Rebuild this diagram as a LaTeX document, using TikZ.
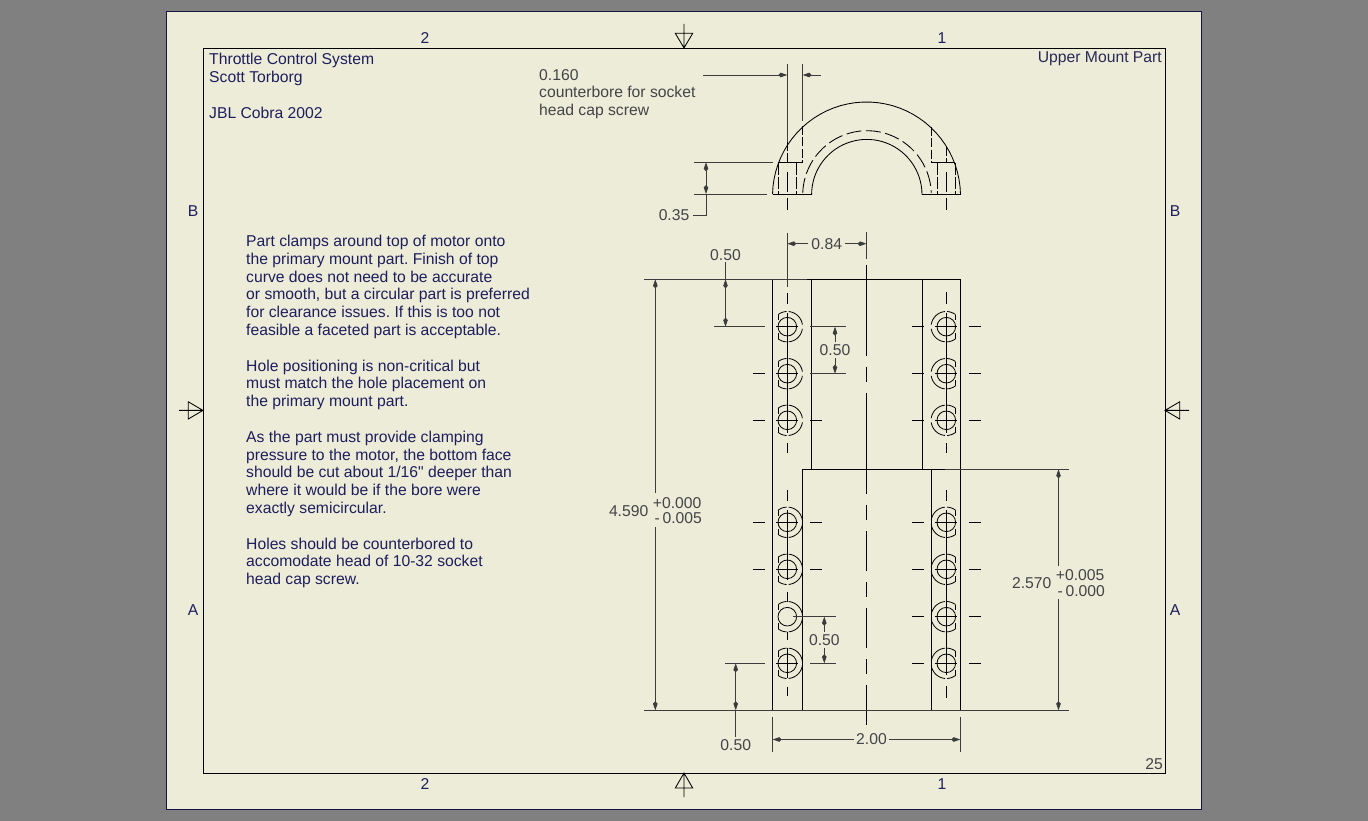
\documentclass[tikz,border=0pt]{standalone}
\usepackage{fontspec}
\setmainfont{Liberation Sans}
\newfontfamily\qfont{Liberation Sans}
\usetikzlibrary{arrows.meta}
\definecolor{bgray}{HTML}{808080}
\definecolor{sheet}{HTML}{ECECD8}
\definecolor{navy}{HTML}{1E1E5E}
\definecolor{dimc}{HTML}{3C3C3C}
\definecolor{dimt}{HTML}{444448}
\tikzset{
  obj/.style={draw=black,line width=0.85pt},
  thin obj/.style={draw=black,line width=0.8pt},
  hid/.style={obj,dash pattern=on 9pt off 2.5pt},
  dimline/.style={draw=dimc,line width=0.85pt},
  dimarr/.style={dimline,arrows={-Kite[length=9pt,width=4.6pt,inset=2.4pt]}},
  dimboth/.style={dimline,arrows={Kite[length=9pt,width=4.6pt,inset=2.4pt]-Kite[length=9pt,width=4.6pt,inset=2.4pt]}},
  lab/.style={font=\fontsize{15.7}{17.8}\selectfont,inner sep=0pt,text=navy,align=left},
  dimlab/.style={font=\fontsize{15.7}{16}\selectfont,inner sep=0pt,text=dimt},
  centremark/.style={draw=black,line width=0.85pt,line join=miter}
}
\frenchspacing
\newcommand{\myarc}[5]{plot[domain=#4:#5,samples=40] ({#1+#3*cos(\x)},{#2-#3*sin(\x)})}
% hole: centre x, centre y, side (+1 = big arc on right, -1 = big arc on left), cross (1/0)
\newcommand{\hole}[4]{%
  \draw[thin obj] (#1,#2) circle[radius=9.3pt];
  \draw[thin obj] plot[domain=127:93,samples=10] ({#1+#3*15.2*cos(\x)},{#2-15.2*sin(\x)});
  \draw[thin obj] plot[domain=-127:-93,samples=10] ({#1+#3*15.2*cos(\x)},{#2-15.2*sin(\x)});
  \draw[thin obj] plot[domain=85:8,samples=18] ({#1+#3*15.2*cos(\x)},{#2-15.2*sin(\x)});
  \draw[thin obj] plot[domain=-85:-8,samples=18] ({#1+#3*15.2*cos(\x)},{#2-15.2*sin(\x)});
  \draw[thin obj] ({#1-#3*9},{#2-12.2}) -- ({#1-#3*9},{#2-6.5});
  \draw[thin obj] ({#1-#3*9},{#2+12.2}) -- ({#1-#3*9},{#2+6.5});
  \ifnum#4=1 \draw[thin obj] ({#1-11},#2) -- ({#1+11},#2); \fi
}
\begin{document}
\begin{tikzpicture}[x=1pt,y=-1pt]
\useasboundingbox (0,0) rectangle (1368,821);
\fill[bgray] (0,0) rectangle (1368,821);
\draw[draw=navy!70!black,fill=sheet,line width=1pt] (166.5,11.5) rectangle (1201.5,809.5);
\draw[obj] (203,48) rectangle (1165,773);

% zone labels
\node[lab] (z2t) at (425,38) {2};
\node[lab] (z1t) at (942,38) {1};
\node[lab] (z2b) at (425,784) {2};
\node[lab] (z1b) at (942,784) {1};
\node[lab] (zBl) at (193,211) {B};
\node[lab] (zAl) at (193,610) {A};
\node[lab] (zBr) at (1175,211) {B};
\node[lab] (zAr) at (1175,610) {A};

% centring marks
\draw[centremark] (675.3,33.3) -- (692.7,33.3) -- (684,48) -- cycle (684,24) -- (684,48);
\draw[centremark] (675.3,788) -- (692.7,788) -- (684,773) -- cycle (684,797) -- (684,773);
\draw[centremark] (188.3,401.8) -- (188.3,419) -- (203,410.4) -- cycle (179,410.4) -- (203,410.4);
\draw[centremark] (1179.7,401.8) -- (1179.7,419) -- (1165,410.4) -- cycle (1189,410.4) -- (1165,410.4);

% title texts
\node[lab,anchor=north west] (title) at (209,53.3) {Throttle Control System\\Scott Torborg};
\node[lab,anchor=west] (car) at (209,112.5) {JBL Cobra 2002};
\node[lab,anchor=east,text=navy!70!dimt] (part) at (1162,58.5) {Upper Mount Part};
\node[lab,anchor=east,text=dimt] (sheetno) at (1163,764) {25};

% notes
\node[lab,anchor=north west] (notes) at (246,235) {Part clamps around top of motor onto\\
the primary mount part. Finish of top\\
curve does not need to be accurate\\
or smooth, but a circular part is preferred\\
for clearance issues. If this is too not\\
feasible a faceted part is acceptable.\\[17.8pt]
Hole positioning is non-critical but\\
must match the hole placement on\\
the primary mount part.\\[17.8pt]
As the part must provide clamping\\
pressure to the motor, the bottom face\\
should be cut about 1/16{\qfont"} deeper than\\
where it would be if the bore were\\
exactly semicircular.\\[17.8pt]
Holes should be counterbored to\\
accomodate head of 10-32 socket\\
head cap screw.};

% top view -------------------------------------------------
\draw[obj] \myarc{866.5}{196}{94}{178.8}{1.2};
\draw[obj] \myarc{866.8}{194.6}{55.2}{180}{0};
\draw[obj,dash pattern=on 15pt off 4.5pt] \myarc{867}{195}{64.3}{178}{2};
\draw[obj] (772.6,194) -- (811.6,194) (922.3,194) -- (960.6,194);
% counterbores
\draw[hid] (787.3,141.7) -- (787.3,162.3);
\draw[hid] (802.7,126) -- (802.7,162.3);
\draw[hid] (931.3,126.7) -- (931.3,162.3);
\draw[hid] (946.3,146.7) -- (946.3,162.3);
\draw[obj] (778.3,162.3) -- (802.7,162.3) (931.3,162.3) -- (955.3,162.3);
\foreach \hx in {778.3,796.7,937.3,955.3}{
  \draw[obj,dash pattern=on 12pt off 2pt] (\hx,163) -- (\hx,194);
}
\foreach \hx in {787.3,946.3}{
  \draw[obj] (\hx,171.7) -- (\hx,192);
  \draw[obj] (\hx,198) -- (\hx,210);
}
% 0.160
\node[lab,anchor=north west,text=dimt] (cbnote) at (539,69) {0.160\\counterbore for socket\\head cap screw};
\draw[dimline] (787.3,64) -- (787.3,141.7);
\draw[dimline] (802.7,64) -- (802.7,120.7);
\coordinate (n160a) at (703,75);
\coordinate (n160b) at (821,75);
\draw[dimarr] (n160a) -- (787.3,75);
\draw[dimarr] (n160b) -- (802.7,75);
% 0.35
\draw[dimline] (694,162.3) -- (773,162.3);
\draw[dimline] (694,194) -- (767,194);
\node[dimlab,anchor=east] (d35) at (689.5,215) {0.35};
\draw[dimboth] (706,162.3) -- (706,194);
\draw[dimline] (706,194) -- (706,215) -- (693,215);

% front view -----------------------------------------------
\draw[obj] (772.7,279.3) rectangle (960.3,710.3);
\draw[obj] (811.3,279.3) -- (811.3,469.3) (922.3,279.3) -- (922.3,469.3);
\draw[obj] (802.3,469.3) -- (802.3,710.3) (931.3,469.3) -- (931.3,710.3);
\draw[obj] (802.3,469.3) -- (960.3,469.3);

% centre line
\foreach \a/\b in {265/355.7,366.7/381.7,393.3/494,505/520,531/570.7,582/597,607.7/647.7,659/673.7,685/725}{
  \draw[obj] (866.5,\a) -- (866.5,\b);
}

% hole column centre lines
\foreach \a/\b in {293.3/304.3,313/433,443/453,490/500.7,510/580,591.7/601.7,631.7/640,648/678,686.7/696}{
  \draw[thin obj] (787.3,\a) -- (787.3,\b);
}
\foreach \a/\b in {292/304,313/433,443/453,490/500.7,510/675,686/698}{
  \draw[thin obj] (946.3,\a) -- (946.3,\b);
}

% holes
\foreach \hy in {326.7,373.7,420.3,522.3,569.3,663.3}{
  \hole{787.3}{\hy}{1}{1}
}
\hole{787.3}{616.7}{1}{0}
\foreach \hy in {326.7,373.7,420.3,522.3,569.3,616.7,663.3}{
  \hole{946.3}{\hy}{-1}{1}
  \draw[obj] (912,\hy) -- (924,\hy);
  \draw[obj] (969.3,\hy) -- (981,\hy);
}
% ticks, left column
\foreach \hy in {373.7,420.3,522.3,569.3}{
  \draw[obj] (753.3,\hy) -- (765,\hy);
}
\foreach \hy in {420.3,522.3,569.3}{
  \draw[obj] (810,\hy) -- (821.7,\hy);
}

% dimension 0.84
\node[dimlab] (d84) at (826.7,243.7) {0.84};
\draw[dimline] (787.3,232.7) -- (787.3,286.7);
\draw[dimline] (866.5,232) -- (866.5,258.7);
\draw[dimarr] (d84.west) ++(-3,0) -- (787.3,243.7);
\draw[dimarr] (d84.east) ++(3,0) -- (866.5,243.7);
% extension lines of 4.590 / 2.570
\draw[dimline] (644,279.3) -- (806.7,279.3);
\draw[dimline] (644,710.3) -- (1069,710.3);
\draw[dimline] (945,469.3) -- (1069,469.3);
% top 0.50
\node[dimlab] (d50a) at (725.5,255) {0.50};
\draw[dimline] (714,326.7) -- (765,326.7);
\draw[dimboth] (725.5,279.3) -- (725.5,326.7);
\draw[dimline] (d50a.south) ++(0,1.5) -- (725.5,279.3);
% 0.50 between holes
\node[dimlab] (d50b) at (835,350.2) {0.50};
\draw[dimline] (810,326.7) -- (846,326.7);
\draw[dimline] (810,373.7) -- (846,373.7);
\draw[dimarr] (d50b.north) ++(0,-2) -- (835,326.7);
\draw[dimarr] (d50b.south) ++(0,2) -- (835,373.7);
% 0.50 lower
\node[dimlab] (d50c) at (824.3,640) {0.50};
\draw[dimline] (793.3,616.7) -- (835.7,616.7);
\draw[dimline] (810,663.3) -- (835.7,663.3);
\draw[dimarr] (d50c.north) ++(0,-2) -- (824.3,616.7);
\draw[dimarr] (d50c.south) ++(0,2) -- (824.3,663.3);
% 0.50 bottom
\node[dimlab] (d50d) at (735.7,745.5) {0.50};
\draw[dimline] (725,663.3) -- (765,663.3);
\draw[dimboth] (735.7,663.3) -- (735.7,710.3);
\draw[dimline] (735.7,710.3) -- (735.7,736.7);
% 2.00
\node[dimlab] (d200) at (871.5,739.5) {2.00};
\draw[dimline] (772.7,716.7) -- (772.7,751.7);
\draw[dimline] (960.3,716.7) -- (960.3,751.7);
\draw[dimarr] (d200.west) ++(-2,0) -- (772.7,739.5);
\draw[dimarr] (d200.east) ++(2,0) -- (960.3,739.5);
% 4.590
\node[dimlab,anchor=east] (d459) at (648.5,510.7) {4.590};
\node[dimlab,anchor=west] (d459p) at (652.7,503) {+0.000};
\node[dimlab,anchor=west] (d459m) at (654.5,518.5) {-\,0.005};
\coordinate (d459top) at (655.3,493.3);
\coordinate (d459bot) at (655.3,527.3);
\draw[dimarr] (d459top) -- (655.3,279.3);
\draw[dimarr] (d459bot) -- (655.3,710.3);
% 2.570
\node[dimlab,anchor=east] (d257) at (1051.5,583) {2.570};
\node[dimlab,anchor=west] (d257p) at (1055.7,575.5) {+0.005};
\node[dimlab,anchor=west] (d257m) at (1057.5,591) {-\,0.000};
\coordinate (d257top) at (1058.5,565.7);
\coordinate (d257bot) at (1058.5,599.3);
\draw[dimarr] (d257top) -- (1058.5,469.3);
\draw[dimarr] (d257bot) -- (1058.5,710.3);
\end{tikzpicture}
\end{document}
